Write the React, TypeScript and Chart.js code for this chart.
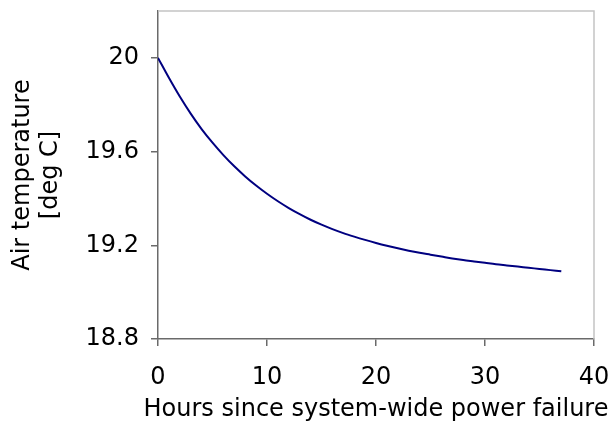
import React, { useEffect, useRef } from "react";
import { Chart, registerables } from "chart.js";

Chart.register(...registerables);

const hours = [
  0, 1, 2, 3, 4, 5, 6, 7, 8, 9, 10, 11, 12, 13, 14, 15, 16, 17, 18, 19, 20,
  21, 22, 23, 24, 25, 26, 27, 28, 29, 30, 31, 32, 33, 34, 35, 36, 37,
];
const airTemp = [
  20.0, 19.915, 19.835, 19.762, 19.696, 19.638, 19.585, 19.537, 19.494, 19.455,
  19.42, 19.388, 19.359, 19.333, 19.309, 19.288, 19.269, 19.252, 19.237, 19.223,
  19.21, 19.198, 19.187, 19.177, 19.168, 19.16, 19.152, 19.144, 19.137, 19.131,
  19.125, 19.119, 19.114, 19.109, 19.104, 19.099, 19.094, 19.089,
];
const xTicks = [0, 10, 20, 30, 40];
const yTicks = [18.8, 19.2, 19.6, 20];
const yTickLabels = ["18.8", "19.2", "19.6", "20"];
const xTitle = "Hours since system-wide power failure";
const yTitle = ["Air temperature", "[deg C]"];

const FONT = "'DejaVu Sans', Verdana, sans-serif";

const frameAndTitle = {
  id: "frameAndTitle",
  beforeDatasetsDraw(chart: any) {
    const { ctx, chartArea } = chart;
    ctx.save();
    ctx.strokeStyle = "#c4c4c4";
    ctx.lineWidth = 1.5;
    ctx.beginPath();
    ctx.moveTo(chartArea.left, chartArea.top);
    ctx.lineTo(chartArea.right, chartArea.top);
    ctx.lineTo(chartArea.right, chartArea.bottom);
    ctx.stroke();
    ctx.restore();
  },
  afterDraw(chart: any) {
    const { ctx, chartArea } = chart;
    ctx.save();
    ctx.fillStyle = "#000";
    ctx.font = `24px ${FONT}`;
    ctx.textAlign = "center";
    ctx.textBaseline = "alphabetic";
    ctx.fillText(xTitle, (chartArea.left + chartArea.right) / 2, chartArea.bottom + 77);
    ctx.restore();
  },
};

export default function App() {
  const ref = useRef<HTMLCanvasElement | null>(null);
  useEffect(() => {
    document.body.style.margin = "0";
    document.body.style.overflow = "hidden";
    if (!ref.current) return;
    const chart = new Chart(ref.current, {
      type: "line",
      data: {
        datasets: [
          {
            data: hours.map((h, i) => ({ x: h, y: airTemp[i] })),
            borderColor: "#000080",
            borderWidth: 2,
            pointRadius: 0,
            cubicInterpolationMode: "monotone",
            fill: false,
          },
        ],
      },
      options: {
        animation: false,
        responsive: false,
        devicePixelRatio: 1,
        layout: { padding: { top: 11, right: 18, bottom: 0, left: 0 } },
        plugins: { legend: { display: false }, tooltip: { enabled: false } },
        scales: {
          x: {
            type: "linear",
            min: 0,
            max: 40,
            afterBuildTicks: (s: any) => {
              s.ticks = xTicks.map((v) => ({ value: v }));
            },
            afterFit: (s: any) => {
              s.height = 82;
              s.paddingLeft = 0;
              s.paddingRight = 0;
            },
            ticks: {
              color: "#000",
              padding: 17,
              font: { family: FONT, size: 24, lineHeight: 1.2 },
              maxRotation: 0,
            },
            grid: {
              drawOnChartArea: false,
              drawTicks: true,
              tickLength: 7,
              color: "#6a6a6a",
              lineWidth: 1.5,
            },
            border: { color: "#6a6a6a", width: 1.5 },
            title: { display: false },
          },
          y: {
            type: "linear",
            min: 18.8,
            max: 20.2,
            afterBuildTicks: (s: any) => {
              s.ticks = yTicks.map((v) => ({ value: v }));
            },
            afterFit: (s: any) => {
              s.width = 158;
              s.paddingTop = 0;
              s.paddingBottom = 0;
            },
            ticks: {
              color: "#000",
              padding: 12,
              font: { family: FONT, size: 24, lineHeight: 1.2 },
              callback: (v: any) => {
                const i = yTicks.findIndex((t) => Math.abs(t - Number(v)) < 1e-6);
                return i >= 0 ? yTickLabels[i] : "";
              },
            },
            grid: {
              drawOnChartArea: false,
              drawTicks: true,
              tickLength: 7,
              color: "#6a6a6a",
              lineWidth: 1.5,
            },
            border: { color: "#6a6a6a", width: 1.5 },
            title: {
              display: true,
              text: yTitle,
              color: "#000",
              font: { family: FONT, size: 24, lineHeight: 1.2 },
              padding: { top: 8, bottom: 0 },
            },
          },
        },
      },
      plugins: [frameAndTitle],
    });
    return () => chart.destroy();
  }, []);
  return (
    <div style={{ position: "absolute", left: 0, top: 0, width: 612, height: 421, overflow: "hidden" }}>
      <canvas ref={ref} width={612} height={421} style={{ display: "block" }} />
    </div>
  );
}
